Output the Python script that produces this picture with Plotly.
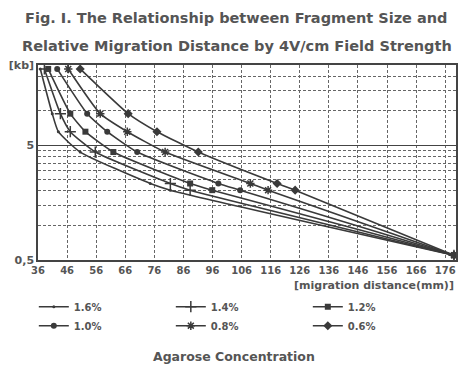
import plotly.graph_objects as go

# Fragment sizes (kb) - lambda/HindIII marker bands
sizes = [23.1, 9.42, 6.56, 4.36, 2.32, 2.03, 0.55]

# Migration distances (mm) for each agarose concentration
conc_labels = ["1.6%", "1.4%", "1.2%", "1.0%", "0.8%", "0.6%"]
dist_16 = [36.8, 40.9, 43.0, 50.5, 74.6, 81.5, 179]
dist_14 = [38.2, 43.7, 47.1, 55.7, 81.5, 88.3, 179]
dist_12 = [39.5, 47.1, 52.3, 61.9, 88.3, 95.9, 179]
dist_10 = [42.6, 52.9, 59.8, 70.1, 98.0, 105.5, 179]
dist_08 = [46.4, 57.4, 66.7, 79.7, 109.0, 115.1, 179]
dist_06 = [50.5, 67.0, 76.9, 91.1, 118.2, 124.4, 179]

x_ticks = [36, 46, 56, 66, 76, 86, 96, 106, 116, 126, 136, 146, 156, 166, 176]
y_major = [0.5, 5, 25]
y_major_text = ["0,5", "5", "[kb]"]
y_minor = [1, 1.5, 2, 2.5, 3, 3.5, 4, 4.5, 10, 15, 20]

series = [dist_16, dist_14, dist_12, dist_10, dist_08, dist_06]
LINE = "#3a3a3a"
TXT = "#555555"
FONT = "DejaVu Sans"

markers = [
    dict(symbol="circle", size=3),
    dict(symbol="cross-thin-open", size=8, line=dict(width=1.5, color=LINE)),
    dict(symbol="square", size=6),
    dict(symbol="circle", size=6),
    dict(symbol="asterisk-open", size=7, line=dict(width=1.5, color=LINE)),
    dict(symbol="diamond", size=7),
]

fig = go.Figure()
for lab, xs, mk in zip(conc_labels, series, markers):
    mk = dict(mk)
    mk.setdefault("color", LINE)
    fig.add_trace(go.Scatter(
        x=xs, y=sizes, name=lab, mode="lines+markers",
        line=dict(color=LINE, width=1.6, shape="spline", smoothing=0.5),
        marker=mk,
    ))

fig.update_layout(
    width=463, height=366,
    margin=dict(l=38, r=7, t=65, b=106),
    paper_bgcolor="white", plot_bgcolor="white",
    font=dict(family=FONT, color=TXT, size=10),
    showlegend=True,
    legend=dict(
        orientation="h", x=-0.01, xanchor="left", y=-0.165, yanchor="top",
        entrywidth=92, entrywidthmode="pixels",
        font=dict(size=10, color=TXT, family=FONT, weight="bold"),
        itemwidth=30,
    ),
)

fig.update_xaxes(
    range=[36, 179.7], tickmode="array", tickvals=x_ticks,
    showline=True, mirror=True, linecolor="#444", linewidth=1.5,
    showgrid=True, gridcolor="#666", gridwidth=1.2, griddash="3px,2px",
    ticks="", tickfont=dict(size=10, color=TXT, family=FONT, weight="bold"),
    zeroline=False, automargin=False,
)
fig.update_yaxes(
    type="log", range=[-0.30103, 1.39794],
    tickmode="array", tickvals=y_major, ticktext=y_major_text,
    showline=True, mirror=True, linecolor="#444", linewidth=1.5,
    showgrid=True, gridcolor="#444", gridwidth=1.3,
    minor=dict(tickmode="array", tickvals=y_minor, showgrid=True,
               gridcolor="#666", gridwidth=1.2, griddash="3px,2px", ticks=""),
    ticks="", tickfont=dict(size=11, color=TXT, family=FONT, weight="bold"),
    zeroline=False, automargin=False,
)

fig.add_annotation(text="Fig. I. The Relationship between Fragment Size and",
                   xref="paper", yref="paper", x=0.476, y=1.0,
                   xanchor="center", yanchor="bottom", showarrow=False,
                   font=dict(size=14.5, color=TXT, family=FONT, weight="bold"),
                   yshift=37)
fig.add_annotation(text="Relative Migration Distance by 4V/cm Field Strength",
                   xref="paper", yref="paper", x=0.476, y=1.0,
                   xanchor="center", yanchor="bottom", showarrow=False,
                   font=dict(size=14.5, color=TXT, family=FONT, weight="bold"),
                   yshift=9)
fig.add_annotation(text="[migration distance(mm)]",
                   xref="paper", yref="paper", x=1.0, y=0, xanchor="right",
                   yanchor="top", showarrow=False, yshift=-17,
                   font=dict(size=11, color=TXT, family=FONT, weight="bold"))
fig.add_annotation(text="Agarose Concentration",
                   xref="paper", yref="paper", x=0.469, y=0, xanchor="center",
                   yanchor="top", showarrow=False, yshift=-87,
                   font=dict(size=12.5, color=TXT, family=FONT, weight="bold"))

fig.write_html("out.html", config={"displayModeBar": False},
               post_script="document.body.style.margin='0px';document.body.style.overflow='hidden';")
